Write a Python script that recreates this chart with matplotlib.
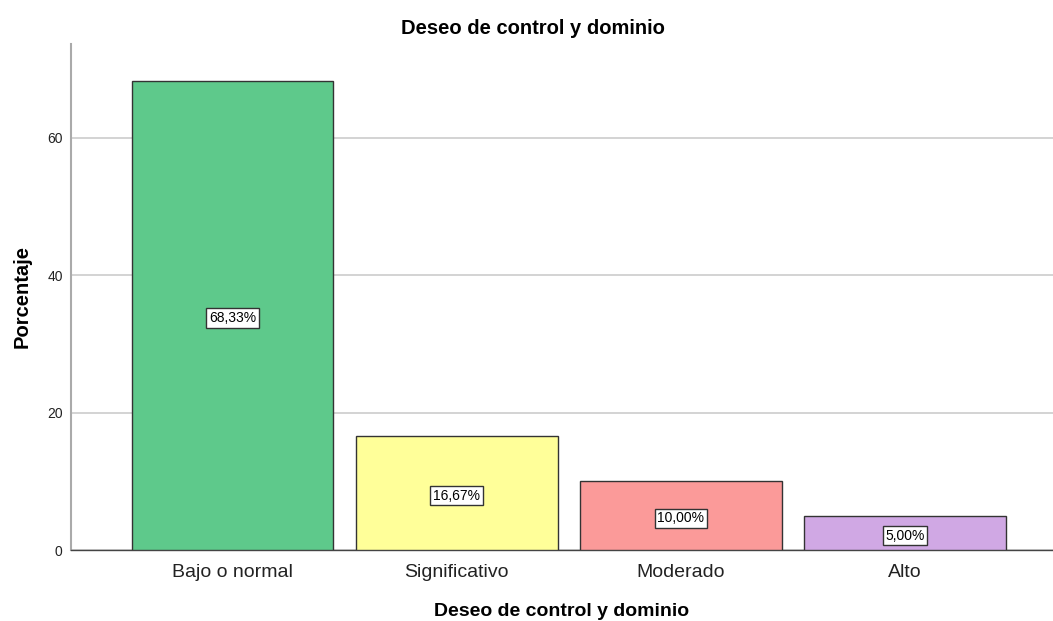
import matplotlib
matplotlib.use('Agg')
import matplotlib.pyplot as plt

categories = ['Bajo o normal', 'Significativo', 'Moderado', 'Alto']
percentages = [68.33, 16.67, 10.00, 5.00]
bar_labels = ['68,33%', '16,67%', '10,00%', '5,00%']
colors = ['#5ec98b', '#ffff99', '#fb9a99', '#d0a8e4']

plt.rcParams['font.family'] = ['Liberation Sans', 'DejaVu Sans']

fig = plt.figure(figsize=(10.53, 6.21), dpi=100)
ax = fig.add_axes([0.0674, 0.1143, 0.9326, 0.815])

x = range(len(categories))
bars = ax.bar(x, percentages, width=0.9, color=colors, edgecolor='#333333', linewidth=1.0, zorder=3)

for bar, label in zip(bars, bar_labels):
    ax.text(bar.get_x() + bar.get_width() / 2, bar.get_height() / 2 - 0.4, label,
            ha='center', va='center', fontsize=10, zorder=4,
            bbox=dict(boxstyle='square,pad=0.2', facecolor='white', edgecolor='#333333', linewidth=1.0))

ax.set_xlim(-0.72, 3.66)
ax.set_ylim(0, 73.7)
ax.set_yticks([0, 20, 40, 60])
ax.set_xticks(list(x))
ax.set_xticklabels(categories, fontsize=14, color='#222222')
ax.tick_params(axis='y', labelsize=10, length=0, pad=6, colors='#222222')
ax.tick_params(axis='x', length=0, pad=10)
ax.yaxis.grid(True, color='#cccccc', linewidth=1.2, zorder=0)

for side in ['top', 'right']:
    ax.spines[side].set_visible(False)
ax.spines['left'].set_color('#aaaaaa')
ax.spines['left'].set_linewidth(1.5)
ax.spines['bottom'].set_color('#444444')
ax.spines['bottom'].set_linewidth(1.0)

fig.text(533 / 1053, 1 - 29 / 621, 'Deseo de control y dominio', fontsize=14.5,
         fontweight='bold', ha='center', va='center')
ax.set_xlabel('Deseo de control y dominio', fontsize=14, fontweight='bold', labelpad=16)
ax.set_ylabel('Porcentaje', fontsize=14.5, fontweight='bold', labelpad=11)

plt.savefig('out.png', dpi=100)
plt.close(fig)
